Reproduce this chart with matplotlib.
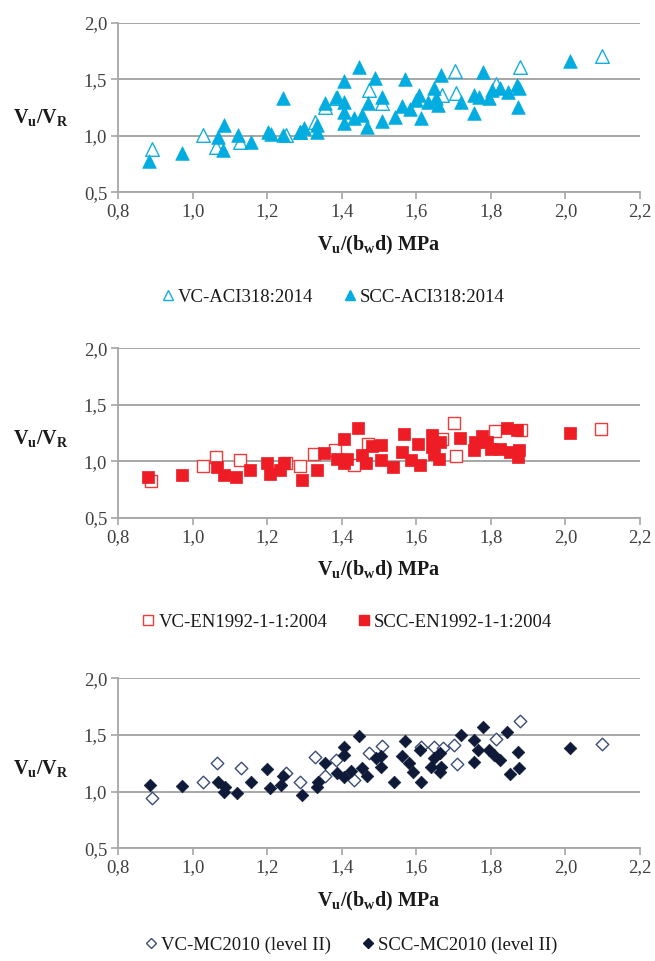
import matplotlib
matplotlib.use("Agg")
import matplotlib.pyplot as plt
from matplotlib.lines import Line2D
from matplotlib import font_manager

available = {f.name for f in font_manager.fontManager.ttflist}
serif = 'Liberation Serif' if 'Liberation Serif' in available else 'DejaVu Serif'

plt.rcParams['font.family'] = 'serif'
plt.rcParams['font.serif'] = [serif, 'DejaVu Serif']
plt.rcParams['mathtext.fontset'] = 'custom'
plt.rcParams['mathtext.rm'] = serif
plt.rcParams['mathtext.it'] = serif + ':italic'
plt.rcParams['mathtext.bf'] = serif + ':bold'

# ---------------- data ----------------
x_ticks = [0.8, 1.0, 1.2, 1.4, 1.6, 1.8, 2.0, 2.2]
x_tick_labels = ["0,8", "1,0", "1,2", "1,4", "1,6", "1,8", "2,0", "2,2"]
y_ticks = [0.5, 1.0, 1.5, 2.0]
y_tick_labels = ["0,5", "1,0", "1,5", "2,0"]

# Panel 1: ACI318:2014
aci_vc_x = [0.890, 1.026, 1.062, 1.127, 1.251, 1.287, 1.327, 1.356, 1.385, 1.472,
            1.507, 1.669, 1.703, 1.706, 1.814, 1.878, 2.098]
aci_vc_y = [0.883, 1.007, 0.904, 0.948, 1.007, 1.030, 1.125, 1.250, 1.330, 1.405,
            1.287, 1.360, 1.572, 1.380, 1.455, 1.610, 1.705]
aci_scc_x = [0.882, 0.972, 1.083, 1.081, 1.067, 1.121, 1.157, 1.201, 1.210, 1.242,
             1.242, 1.287, 1.299, 1.334, 1.334, 1.355, 1.388, 1.405, 1.407, 1.405,
             1.407, 1.432, 1.445, 1.453, 1.467, 1.469, 1.489, 1.507, 1.507, 1.543,
             1.562, 1.570, 1.583, 1.598, 1.608, 1.612, 1.631, 1.647, 1.652, 1.659,
             1.666, 1.719, 1.755, 1.755, 1.768, 1.780, 1.795, 1.804, 1.823, 1.847,
             1.871, 1.875, 1.873, 2.011]
aci_scc_y = [0.775, 0.845, 1.095, 0.875, 0.990, 1.007, 0.948, 1.036, 1.020, 1.337,
             1.007, 1.036, 1.070, 1.095, 1.036, 1.287, 1.346, 1.480, 1.300, 1.210,
             1.110, 1.154, 1.610, 1.180, 1.075, 1.287, 1.510, 1.346, 1.134, 1.170,
             1.260, 1.500, 1.240, 1.316, 1.360, 1.154, 1.300, 1.420, 1.330, 1.270,
             1.537, 1.300, 1.200, 1.360, 1.346, 1.567, 1.330, 1.405, 1.420, 1.390,
             1.450, 1.420, 1.250, 1.664]

# Panel 2: EN1992-1-1:2004
en_vc_x = [0.888, 1.026, 1.062, 1.127, 1.251, 1.287, 1.325, 1.382, 1.432, 1.469,
           1.669, 1.700, 1.707, 1.812, 1.880, 2.096]
en_vc_y = [0.826, 0.956, 1.038, 1.009, 0.980, 0.956, 1.068, 1.103, 0.965, 1.156,
           1.200, 1.338, 1.050, 1.268, 1.274, 1.282]
en_scc_x = [0.881, 0.971, 1.064, 1.083, 1.116, 1.154, 1.199, 1.206, 1.235, 1.244,
            1.294, 1.332, 1.353, 1.388, 1.405, 1.405, 1.415, 1.443, 1.453, 1.464,
            1.481, 1.505, 1.505, 1.538, 1.567, 1.562, 1.586, 1.605, 1.610, 1.643,
            1.643, 1.648, 1.662, 1.660, 1.717, 1.755, 1.757, 1.776, 1.790, 1.799,
            1.823, 1.842, 1.852, 1.871, 1.875, 1.873, 2.011]
en_scc_y = [0.862, 0.876, 0.950, 0.876, 0.862, 0.920, 0.980, 0.890, 0.920, 0.980,
            0.838, 0.920, 1.074, 1.024, 1.200, 0.980, 1.024, 1.294, 1.053, 0.980,
            1.132, 1.140, 1.010, 0.950, 1.244, 1.082, 1.010, 1.156, 0.965, 1.230,
            1.126, 1.068, 1.170, 1.024, 1.210, 1.097, 1.170, 1.220, 1.170, 1.112,
            1.112, 1.297, 1.082, 1.280, 1.097, 1.038, 1.250]

# Panel 3: MC2010 (level II)
mc_vc_x = [0.890, 1.026, 1.064, 1.128, 1.251, 1.287, 1.328, 1.356, 1.385, 1.432,
           1.472, 1.507, 1.611, 1.647, 1.671, 1.702, 1.709, 1.814, 1.878, 2.098]
mc_vc_y = [0.947, 1.088, 1.255, 1.205, 1.161, 1.088, 1.302, 1.138, 1.279, 1.103,
           1.343, 1.402, 1.390, 1.396, 1.387, 1.410, 1.240, 1.460, 1.625, 1.416]
mc_scc_x = [0.884, 0.972, 1.067, 1.083, 1.087, 1.119, 1.157, 1.200, 1.208, 1.237,
            1.242, 1.294, 1.332, 1.336, 1.356, 1.387, 1.405, 1.405, 1.407, 1.425,
            1.446, 1.453, 1.467, 1.491, 1.505, 1.505, 1.540, 1.569, 1.562, 1.581,
            1.590, 1.610, 1.612, 1.638, 1.647, 1.662, 1.662, 1.666, 1.719, 1.755,
            1.755, 1.764, 1.779, 1.795, 1.807, 1.823, 1.844, 1.850, 1.873, 1.875,
            2.011]
mc_scc_y = [1.059, 1.050, 1.088, 1.000, 1.044, 0.990, 1.088, 1.196, 1.030, 1.059,
            1.138, 0.970, 1.044, 1.088, 1.250, 1.167, 1.396, 1.320, 1.132, 1.185,
            1.490, 1.205, 1.138, 1.293, 1.314, 1.220, 1.088, 1.449, 1.314, 1.255,
            1.176, 1.367, 1.088, 1.220, 1.293, 1.337, 1.176, 1.220, 1.504, 1.455,
            1.264, 1.367, 1.570, 1.367, 1.320, 1.279, 1.528, 1.155, 1.346, 1.205,
            1.381]

# ---------------- styling ----------------
W, H = 655, 961
fig = plt.figure(figsize=(W / 100, H / 100), dpi=100)

left = 118.3 / W
width = (640 - 118.3) / W
panels = [
    dict(top=22.7, bottom=192.3, vcx=aci_vc_x, vcy=aci_vc_y, sx=aci_scc_x, sy=aci_scc_y,
         marker='^', ms=9.8, vc_edge='#16AEE0', scc_col='#00ACE0', vc_lw=1.0,
         labels=["VC-ACI318:2014", "SCC-ACI318:2014"], leg=(333, 297), ylab=1.16),
    dict(top=348.3, bottom=517.7, vcx=en_vc_x, vcy=en_vc_y, sx=en_scc_x, sy=en_scc_y,
         marker='s', ms=8.8, vc_edge='#EE3B3B', scc_col='#EE1C24', vc_lw=1.0,
         labels=["VC-EN1992-1-1:2004", "SCC-EN1992-1-1:2004"], leg=(347, 622), ylab=1.2),
    dict(top=678.3, bottom=848.3, vcx=mc_vc_x, vcy=mc_vc_y, sx=mc_scc_x, sy=mc_scc_y,
         marker='D', ms=6.4, vc_edge='#3C4E78', scc_col='#0E1A38', vc_lw=1.0,
         labels=["VC-MC2010 (level II)", "SCC-MC2010 (level II)"], leg=(351, 945), ylab=1.2),
]

grid_col = '#A6A6A6'
tick_col = '#404040'

for p in panels:
    ax = fig.add_axes([left, 1 - p['bottom'] / H, width, (p['bottom'] - p['top']) / H])
    ax.scatter(p['vcx'], p['vcy'], marker=p['marker'], s=p['ms'] ** 2,
               facecolors='white', edgecolors=p['vc_edge'], linewidths=p['vc_lw'], zorder=3)
    ax.scatter(p['sx'], p['sy'], marker=p['marker'], s=p['ms'] ** 2,
               facecolors=p['scc_col'], edgecolors=p['scc_col'], linewidths=0.5, zorder=4)
    ax.set_xlim(0.8, 2.2)
    ax.set_ylim(0.5, 2.0)
    ax.set_xticks(x_ticks)
    ax.set_xticklabels(x_tick_labels)
    ax.set_yticks(y_ticks)
    ax.set_yticklabels(y_tick_labels)
    for s in ['top', 'right']:
        ax.spines[s].set_visible(False)
    for s in ['left', 'bottom']:
        ax.spines[s].set_color(grid_col)
        ax.spines[s].set_linewidth(1.3)
    ax.yaxis.grid(True, color=grid_col, linewidth=1.4, zorder=0)
    ax.set_axisbelow(True)
    ax.tick_params(axis='both', direction='out', length=5, width=1.2, color=grid_col,
                   labelcolor=tick_col, labelsize=13.5, pad=3)
    ax.set_xlabel(r'$\mathbf{V_u/(b_w d)}$ MPa', fontsize=14.5, fontweight='bold',
                  color='#1A1A1A')
    ax.xaxis.set_label_coords(0.5, -53 / (p['bottom'] - p['top']))
    ax.xaxis.label.set_va('center')
    ax.set_ylabel(r'$\mathbf{V_u/V_R}$', fontsize=14.5, fontweight='bold',
                  color='#1A1A1A', rotation=0, ha='center', va='center')
    ax.yaxis.set_label_coords((41 - 118.3) / (640 - 118.3), (p['ylab'] - 0.5) / 1.5)

    handles = [
        Line2D([], [], linestyle='none', marker=p['marker'], markersize=p['ms'] * 0.8,
               markerfacecolor='white', markeredgecolor=p['vc_edge'], markeredgewidth=1.0),
        Line2D([], [], linestyle='none', marker=p['marker'], markersize=p['ms'] * 0.8,
               markerfacecolor=p['scc_col'], markeredgecolor=p['scc_col']),
    ]
    fig.legend(handles, p['labels'], loc='center', ncol=2, frameon=False,
               bbox_to_anchor=(p['leg'][0] / W, 1 - p['leg'][1] / H),
               fontsize=13.5, handlelength=0.7, handletextpad=0.2, columnspacing=1.6,
               labelcolor='#1A1A1A')

fig.savefig('out.png', dpi=100)
